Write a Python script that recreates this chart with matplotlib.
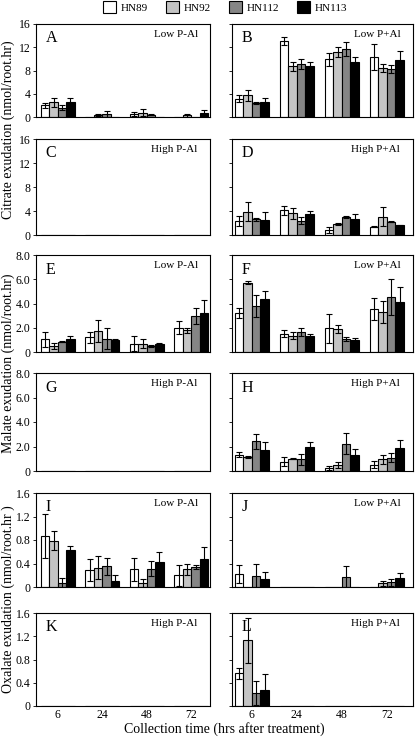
import numpy as np
import matplotlib
matplotlib.use('Agg')
import matplotlib.pyplot as plt
from matplotlib.patches import Patch

plt.rcParams['font.family'] = ['Liberation Serif', 'DejaVu Serif']

cultivars = ['HN89', 'HN92', 'HN112', 'HN113']
times = ['6', '24', '48', '72']
colors = ['white', '#c4c4c4', '#858585', 'black']

# rows = cultivar, cols = collection time
A_mean = [[2.0, 0, 0.5, 0], [2.5, 0.3, 0.7, 0.3], [1.6, 0.5, 0.4, 0], [2.6, 0, 0, 0.7]]
A_err = [[0.4, 0, 0.3, 0], [0.8, 0.2, 0.6, 0.3], [0.4, 0.6, 0.1, 0], [0.7, 0, 0, 0.5]]
B_mean = [[3.1, 13.1, 9.95, 10.3], [3.75, 8.7, 11.25, 8.4], [2.45, 9.1, 11.7, 8.3], [2.55, 8.75, 9.4, 9.8]]
B_err = [[0.6, 0.7, 1.1, 2.2], [0.95, 0.7, 0.85, 0.7], [0.2, 0.9, 1.25, 0.7], [0.75, 0.65, 0.85, 1.6]]
C_mean = [[0, 0, 0, 0]] * 4
C_err = [[0, 0, 0, 0]] * 4
D_mean = [[2.3, 4.1, 0.85, 1.4], [3.9, 3.6, 1.8, 3.05], [2.6, 2.4, 3.0, 2.2], [2.5, 3.5, 2.75, 1.6]]
D_err = [[0.85, 0.8, 0.5, 0.1], [1.55, 0.85, 0.2, 1.55], [0.25, 0.6, 0.15, 0.1], [1.4, 0.45, 0.75, 0.05]]

E_mean = [[1.05, 1.2, 0.7, 2.0], [0.5, 1.75, 0.7, 1.8], [0.86, 1.1, 0.5, 2.97], [1.1, 1.0, 0.67, 3.22]]
E_err = [[0.6, 0.45, 0.6, 0.55], [0.25, 0.9, 0.35, 0.2], [0.05, 0.85, 0.05, 0.7], [0.25, 0.05, 0.05, 1.1]]
F_mean = [[3.2, 1.52, 1.94, 3.55], [5.73, 1.35, 1.88, 3.3], [3.8, 1.63, 1.08, 4.54], [4.4, 1.33, 1.02, 4.1]]
F_err = [[0.4, 0.3, 1.2, 0.9], [0.1, 0.3, 0.35, 0.9], [0.9, 0.35, 0.15, 1.5], [0.65, 0.15, 0.15, 1.25]]
G_mean = [[0, 0, 0, 0]] * 4
G_err = [[0, 0, 0, 0]] * 4
H_mean = [[1.32, 0.77, 0.25, 0.52], [1.16, 1.0, 0.5, 0.94], [2.43, 0.97, 2.23, 1.1], [1.74, 1.93, 1.32, 1.9]]
H_err = [[0.2, 0.35, 0.15, 0.3], [0.1, 0.03, 0.25, 0.35], [0.6, 0.45, 0.85, 0.35], [0.6, 0.4, 0.5, 0.65]]

I_mean = [[0.865, 0.29, 0.3, 0.2], [0.785, 0.33, 0.07, 0.3], [0.073, 0.35, 0.31, 0.34], [0.63, 0.11, 0.43, 0.48]]
I_err = [[0.37, 0.18, 0.19, 0.18], [0.16, 0.19, 0.07, 0.1], [0.085, 0.14, 0.13, 0.03], [0.07, 0.1, 0.17, 0.2]]
J_mean = [[0.22, 0, 0, 0], [0, 0, 0, 0.06], [0.19, 0, 0.17, 0.08], [0.14, 0, 0, 0.15]]
J_err = [[0.16, 0, 0, 0], [0, 0, 0, 0.05], [0.2, 0, 0.19, 0.06], [0.12, 0, 0, 0.09]]
K_mean = [[0, 0, 0, 0]] * 4
K_err = [[0, 0, 0, 0]] * 4
L_mean = [[0.56, 0, 0, 0], [1.13, 0, 0, 0], [0.22, 0, 0, 0], [0.27, 0, 0, 0]]
L_err = [[0.1, 0, 0, 0], [0.39, 0, 0, 0], [0.21, 0, 0, 0], [0.28, 0, 0, 0]]

panels = [
    ('A', 'Low P-Al', A_mean, A_err), ('B', 'Low P+Al', B_mean, B_err),
    ('C', 'High P-Al', C_mean, C_err), ('D', 'High P+Al', D_mean, D_err),
    ('E', 'Low P-Al', E_mean, E_err), ('F', 'Low P+Al', F_mean, F_err),
    ('G', 'High P-Al', G_mean, G_err), ('H', 'High P+Al', H_mean, H_err),
    ('I', 'Low P-Al', I_mean, I_err), ('J', 'Low P+Al', J_mean, J_err),
    ('K', 'High P-Al', K_mean, K_err), ('L', 'High P+Al', L_mean, L_err),
]

ylims = [16, 16, 8, 8, 1.6, 1.6]
yticks = [[0, 4, 8, 12, 16]] * 2 + [[0, 2, 4, 6, 8]] * 2 + [[0, 0.4, 0.8, 1.2, 1.6]] * 2
ytick_labels = [['0', '4', '8', '12', '16']] * 2 + [['0', '2.0', '4.0', '6.0', '8.0']] * 2 + \
               [['0', '0.4', '0.8', '1.2', '1.6']] * 2
ylabels = ['Citrate exudation (nmol/root.hr)', 'Malate exudation (nmol/root.hr)',
           'Oxalate exudation (nmol/root.hr )']

W, H = 415, 737
fig = plt.figure(figsize=(W / 100, H / 100), dpi=100)

rows_px = [(24, 117), (139, 235), (255, 352), (373, 471), (493, 587), (613, 706)]
cols_px = [(36, 210), (232, 413)]
xlims = [(-0.49, 3.42), (-0.44, 3.58)]

bw = 0.19
x = np.arange(4)
for i, (letter, cond, mean, err) in enumerate(panels):
    r, c = divmod(i, 2)
    top, bot = rows_px[r]
    left, right = cols_px[c]
    ax = fig.add_axes([left / W, 1 - bot / H, (right - left) / W, (bot - top) / H])
    mean = np.array(mean, float)
    err = np.array(err, float)
    for k in range(4):
        xs = x + (k - 1.5) * bw
        ax.bar(xs, mean[k], width=bw, color=colors[k], edgecolor='black', linewidth=0.8)
        m = mean[k] > 0
        if m.any():
            ax.errorbar(xs[m], mean[k][m], yerr=err[k][m], fmt='none', ecolor='black',
                        elinewidth=0.8, capsize=2.5, capthick=0.8)
    ax.set_xlim(*xlims[c])
    ax.set_ylim(0, ylims[r])
    ax.set_yticks(yticks[r])
    ax.set_xticks(x)
    if c == 0:
        ax.set_yticklabels(ytick_labels[r], fontsize=8.5)
    else:
        ax.set_yticklabels([])
    if r == 5:
        ax.set_xticklabels(times, fontsize=8.5)
    else:
        ax.set_xticklabels([])
    ax.tick_params(axis='x', length=0, pad=2)
    ax.tick_params(axis='y', length=2, width=0.6, direction='out', pad=2)
    for s in ax.spines.values():
        s.set_linewidth(0.8)
    ax.text(0.055, 0.85, letter, transform=ax.transAxes, fontsize=11.5, va='center', ha='left')
    ax.text(0.93, 0.89, cond, transform=ax.transAxes, fontsize=8, va='center', ha='right')

# y labels spanning pairs of rows
for j, lab in enumerate(ylabels):
    top = rows_px[2 * j][0]
    bot = rows_px[2 * j + 1][1]
    fig.text(8 / W, 1 - (top + bot) / 2 / H, lab, rotation=90, fontsize=10,
             ha='center', va='center')

fig.text(224 / W, 1 - 729 / H, 'Collection time (hrs after treatment)', fontsize=10,
         ha='center', va='center')

handles = [Patch(facecolor=col, edgecolor='black', linewidth=0.8) for col in colors]
fig.legend(handles, cultivars, loc='center', bbox_to_anchor=(225 / W, 1 - 7 / H), ncol=4,
           frameon=False, fontsize=8, handlelength=1.2, handleheight=1.2, handletextpad=0.4,
           columnspacing=1.6, borderpad=0)

fig.savefig('out.png', dpi=100)
